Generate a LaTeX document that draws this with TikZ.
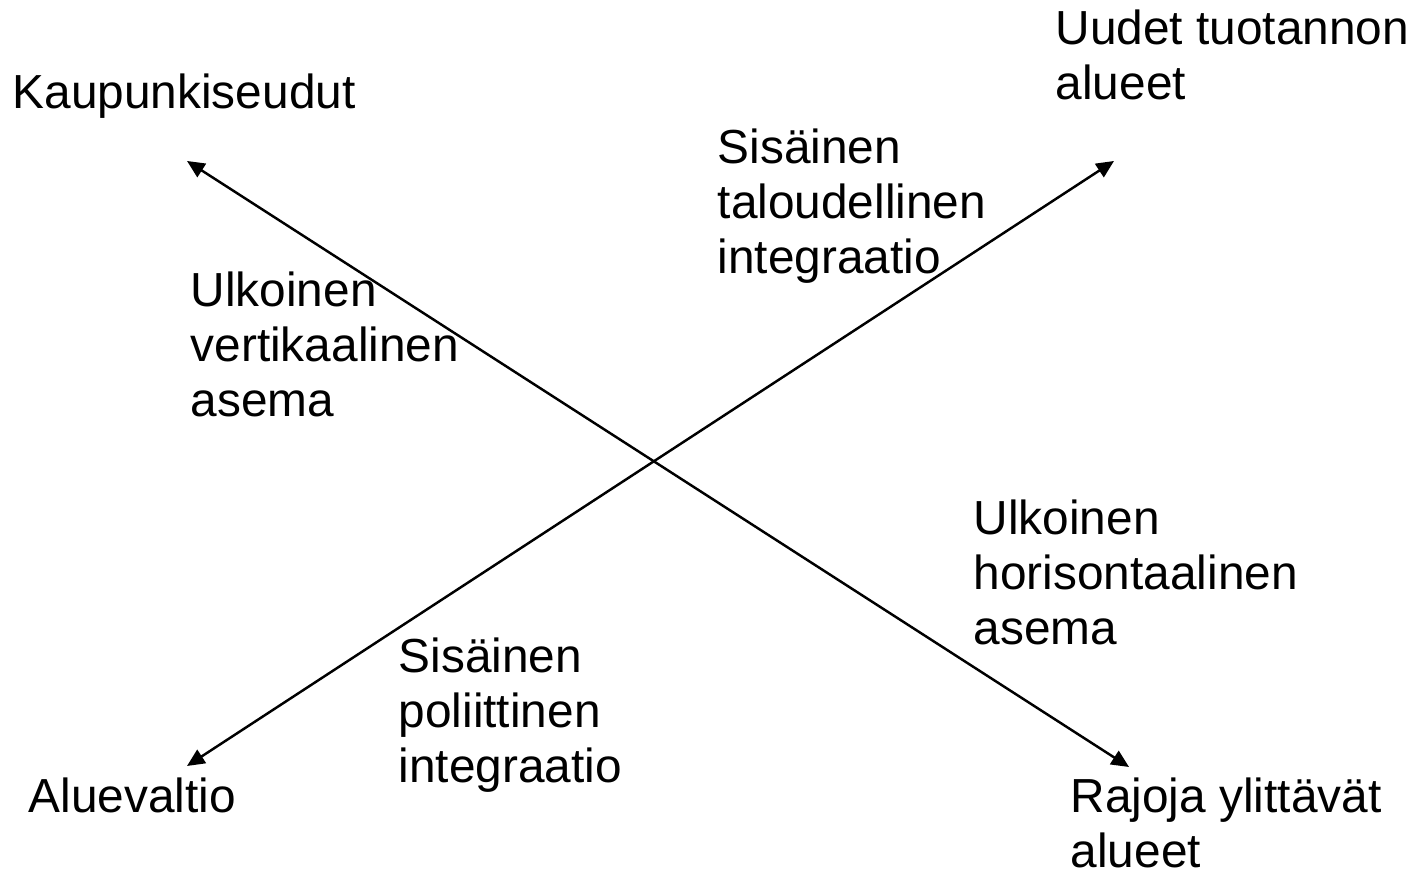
\documentclass[tikz,border=0pt]{standalone}
\usepackage{fontspec}
\setmainfont{Liberation Sans}
\usetikzlibrary{arrows.meta}

\begin{document}
\begin{tikzpicture}[
        lbl/.style={anchor=base west, align=left, inner sep=0pt,
            font=\fontsize{13.6}{15.65}\selectfont},
        axis/.style={{Triangle[length=5pt,width=4.5pt]}-{Triangle[length=5pt,width=4.5pt]}, line width=0.7pt}
    ]
        \useasboundingbox (0,0) rectangle (14.24,8.73);

        % ends of the two arrows
        \coordinate (ks) at (1.87,7.12);
        \coordinate (ra) at (11.29,1.06);
        \coordinate (ut) at (11.14,7.12);
        \coordinate (av) at (1.87,1.07);

        \draw[axis] (ks) -- (ra);
        \draw[axis] (av) -- (ut);

        % corner labels (base = last line)
        \node[lbl] (kaupunki) at (0.12,7.64) {Kaupunkiseudut};
        \node[lbl] (uudet) at (10.55,7.73) {Uudet tuotannon\\alueet};
        \node[lbl] (aluevaltio) at (0.28,0.60) {Aluevaltio};
        \node[lbl] (rajoja) at (10.70,0.05) {Rajoja ylittävät\\alueet};

        % arrow labels
        \node[lbl] (taloudellinen) at (7.17,5.99) {Sisäinen\\taloudellinen\\integraatio};
        \node[lbl] (vertikaalinen) at (1.90,4.56) {Ulkoinen\\vertikaalinen\\asema};
        \node[lbl] (horisontaalinen) at (9.73,2.28) {Ulkoinen\\horisontaalinen\\asema};
        \node[lbl] (poliittinen) at (3.98,0.90) {Sisäinen\\poliittinen\\integraatio};
    \end{tikzpicture}
\end{document}
